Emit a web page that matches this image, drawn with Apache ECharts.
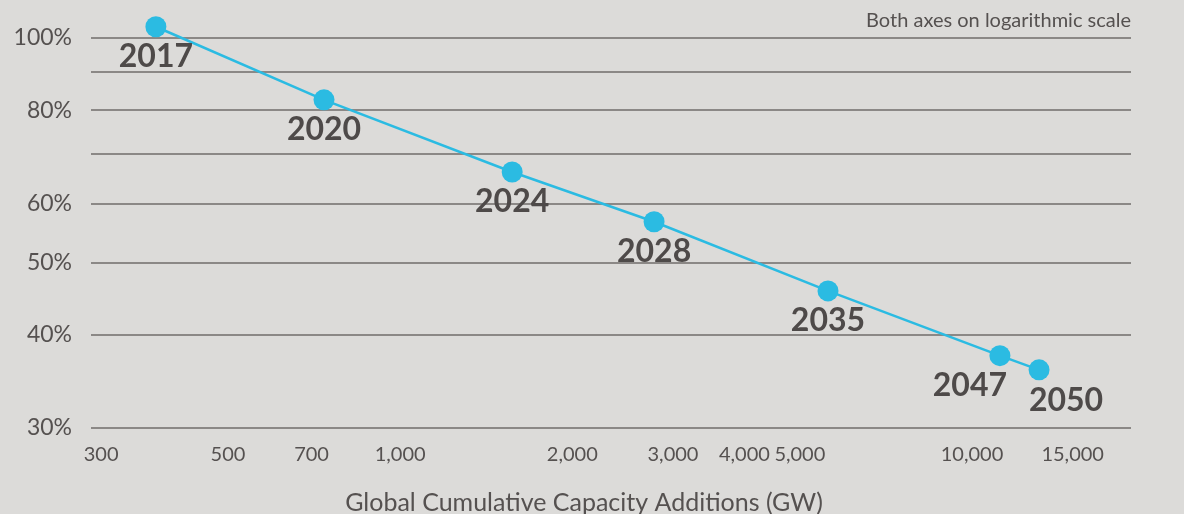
<!DOCTYPE html>
<html>
<head>
<meta charset="utf-8">
<script src="https://cdn.jsdelivr.net/npm/echarts@6/dist/echarts.min.js"></script>
<style>
html,body{margin:0;padding:0;background:#dcdbd9;}
#chart{width:1184px;height:514px;}
</style>
</head>
<body>
<div id="chart"></div>
<script>
// Data (both axes logarithmic)
const years = ['2017', '2020', '2024', '2028', '2035', '2047', '2050'];
const capacityGW = [374, 736, 1570, 2780, 5600, 11190, 13100];
const costPct = [103.5, 82.6, 66.1, 56.7, 45.8, 37.5, 35.9];
const xTickValues = [300, 500, 700, 1000, 2000, 3000, 4000, 5000, 10000, 15000];
const yTickLabelValues = [30, 40, 50, 60, 80, 100];
const yGridValues = [30, 40, 50, 60, 70, 80, 90, 100];
const labelOffsets = [[0, 30], [0, 30], [0, 30], [0, 30], [0, 30], [-30, 30], [27, 31]];

const textColor = '#555150';
const font = 'Lato, "Open Sans", sans-serif';

const chart = echarts.init(document.getElementById('chart'));
const seriesData = years.map((y, i) => ({
  value: [capacityGW[i], costPct[i]],
  name: y,
  label: { offset: labelOffsets[i] }
}));

chart.setOption({
  backgroundColor: '#dcdbd9',
  animation: false,
  title: {
    text: 'Both axes on logarithmic scale',
    right: 48,
    top: 6,
    textStyle: { fontFamily: font, fontSize: 20, fontWeight: 'normal', color: textColor }
  },
  grid: { left: 91, right: 53, top: 7, bottom: 86, containLabel: false, outerBoundsMode: 'none' },
  xAxis: {
    type: 'log',
    min: 288,
    max: 18970,
    name: 'Global Cumulative Capacity Additions (GW)',
    nameLocation: 'middle',
    nameGap: 62,
    nameTextStyle: { fontFamily: font, fontSize: 25, color: textColor, padding: [0, 54, 0, 0] },
    axisLine: { show: false },
    axisTick: { show: false, customValues: xTickValues },
    splitLine: { show: false },
    axisLabel: {
      customValues: xTickValues,
      formatter: v => Math.round(v).toLocaleString('en-US'),
      fontFamily: font, fontSize: 20, color: textColor, margin: 17
    }
  },
  yAxis: {
    type: 'log',
    min: 30,
    max: 110,
    axisLine: { show: false },
    axisTick: { show: false, customValues: yGridValues },
    splitLine: { show: true, lineStyle: { color: '#716c6a', width: 1.5 } },
    axisLabel: {
      customValues: yTickLabelValues,
      formatter: v => Math.round(v) + '%',
      fontFamily: font, fontSize: 23, color: textColor, margin: 19
    }
  },
  series: [{
    type: 'line',
    data: seriesData,
    clip: false,
    symbol: 'circle',
    symbolSize: 21,
    itemStyle: { color: '#2bbbe2' },
    lineStyle: { color: '#2bbbe2', width: 2.5 },
    label: {
      show: true,
      position: 'inside',
      formatter: p => p.name,
      fontFamily: font,
      fontSize: 32,
      fontWeight: 'bold',
      color: '#4e4a49'
    }
  }]
});
</script>
</body>
</html>
